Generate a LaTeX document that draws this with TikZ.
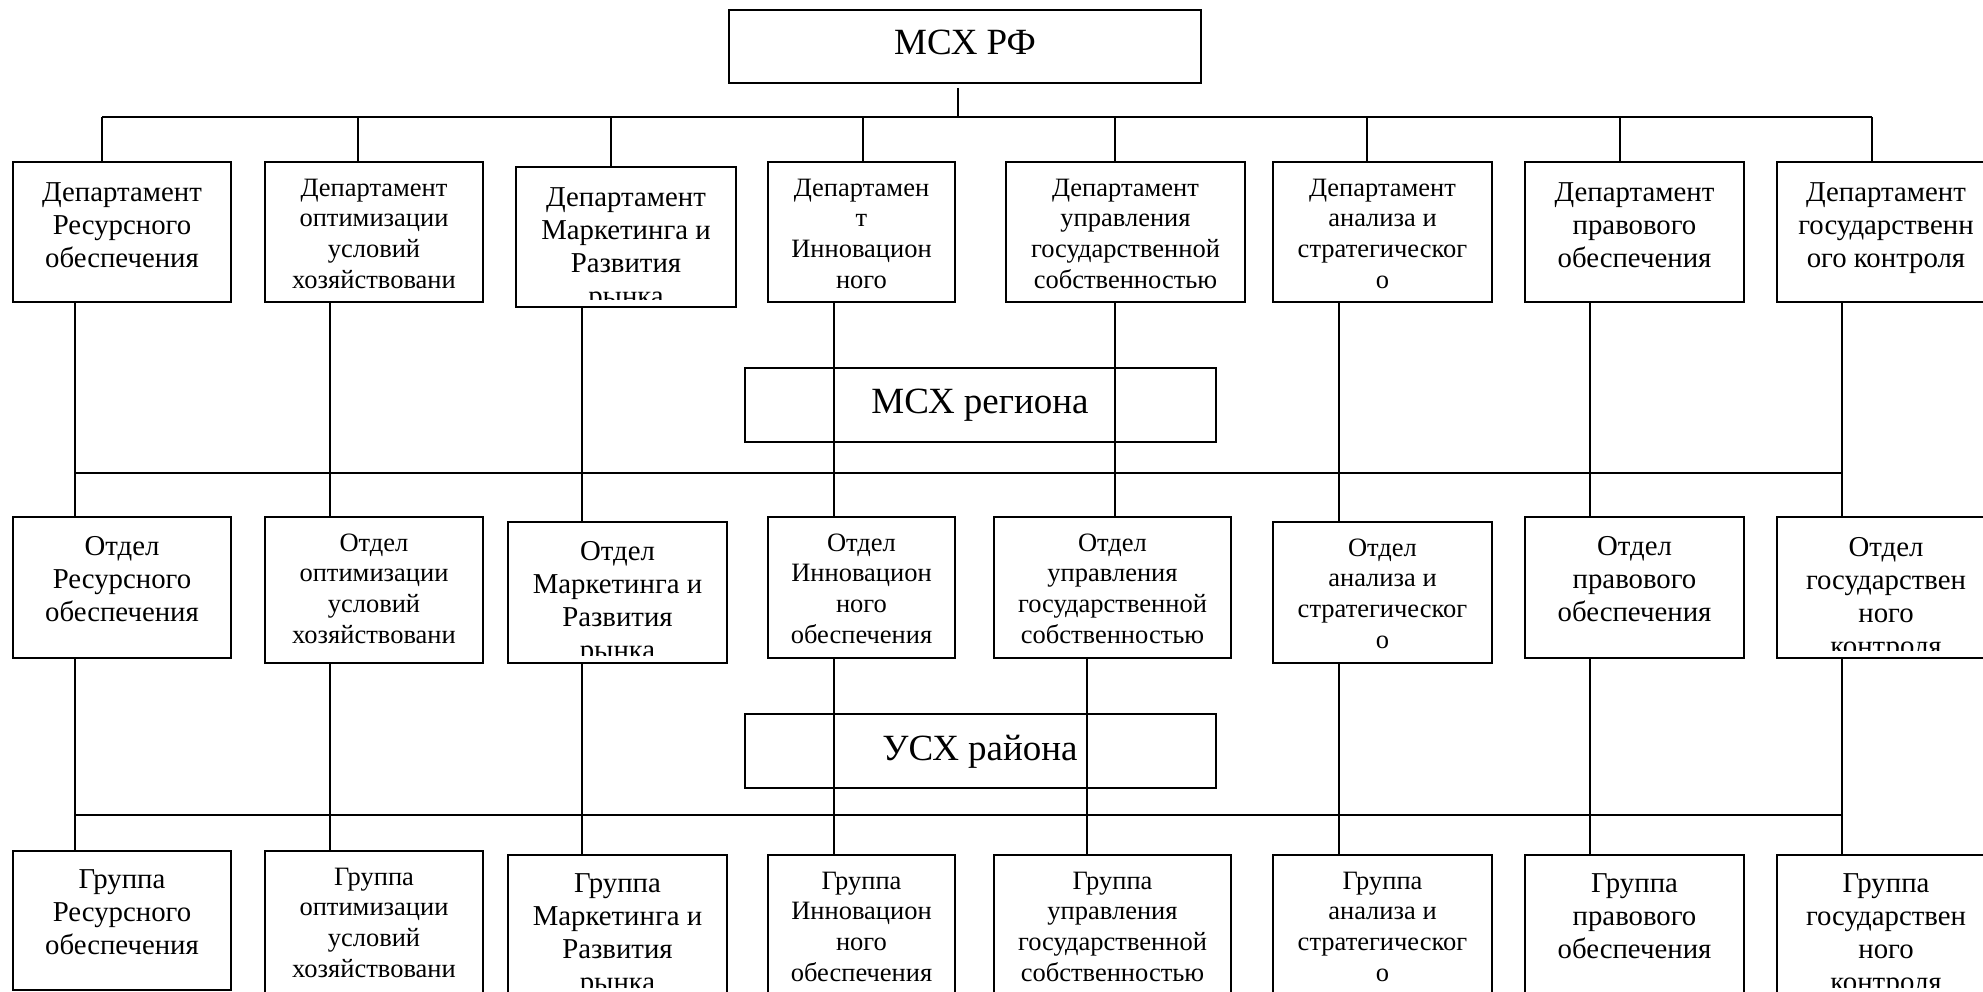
\documentclass[tikz,border=0pt]{standalone}
\usepackage{fontspec}
\setmainfont{Liberation Serif}
\newcommand\orgbox[8]{%
  \node[frame, minimum width={#4-#2}, minimum height={#5-#3}] (#1) at (#2,#3) {};
  \begin{scope}
    \clip (#2,#3) rectangle (#4,#5-8);
    \node[lbl,#6,anchor=north] (#1t) at ({(#2+#4)/2},#3+#7-26) {\rule{0pt}{26pt}#8};
  \end{scope}}
\begin{document}
\begin{tikzpicture}[x=1pt,y=-1pt,
  frame/.style={draw, line width=2.2pt, rectangle, inner sep=0pt, outer sep=0pt, anchor=north west},
  bigtxt/.style={font=\fontsize{28.8}{33}\selectfont},
  smalltxt/.style={font=\fontsize{26.5}{30.6}\selectfont},
  headtxt/.style={font=\fontsize{37}{42}\selectfont},
  lbl/.style={align=center, inner sep=0pt},
  conn/.style={line width=1.5pt},
  bus/.style={line width=2.4pt}]
\fill[white] (0,0) rectangle (1983,992);
\useasboundingbox (0,0) rectangle (1983,992);
\clip (0,0) rectangle (1983,992);

% central boxes
\node[frame, minimum width=472, minimum height=73] (rf) at (729,10) {};
\node[lbl, headtxt, anchor=base] (rft) at (965,55) {МСХ РФ};
\node[frame, minimum width=471, minimum height=74] (reg) at (745,368) {};
\node[lbl, headtxt, anchor=base] (regt) at (980,413) {МСХ региона};
\node[frame, minimum width=471, minimum height=74] (ray) at (745,714) {};
\node[lbl, headtxt, anchor=base] (rayt) at (980,760) {УСХ района};

% row 1
\orgbox{d1}{13}{162}{231}{302}{bigtxt}{39}{Департамент\\Ресурсного\\обеспечения}
\orgbox{d2}{265}{162}{483}{302}{smalltxt}{34}{Департамент\\оптимизации\\условий\\хозяйствовани}
\orgbox{d3}{516}{167}{736}{307}{bigtxt}{39}{Департамент\\Маркетинга и\\Развития\\рынка}
\orgbox{d4}{768}{162}{955}{302}{smalltxt}{34}{Департамен\\т\\Инновацион\\ного}
\orgbox{d5}{1006}{162}{1245}{302}{smalltxt}{34}{Департамент\\управления\\государственной\\собственностью}
\orgbox{d6}{1273}{162}{1492}{302}{smalltxt}{34}{Департамент\\анализа и\\стратегическог\\о}
\orgbox{d7}{1525}{162}{1744}{302}{bigtxt}{39}{Департамент\\правового\\обеспечения}
\orgbox{d8}{1777}{162}{1995}{302}{bigtxt}{39}{Департамент\\государственн\\ого контроля}

% row 2
\orgbox{o1}{13}{517}{231}{658}{bigtxt}{38}{Отдел\\Ресурсного\\обеспечения}
\orgbox{o2}{265}{517}{483}{663}{smalltxt}{34}{Отдел\\оптимизации\\условий\\хозяйствовани}
\orgbox{o3}{508}{522}{727}{663}{bigtxt}{38}{Отдел\\Маркетинга и\\Развития\\рынка}
\orgbox{o4}{768}{517}{955}{658}{smalltxt}{34}{Отдел\\Инновацион\\ного\\обеспечения}
\orgbox{o5}{994}{517}{1231}{658}{smalltxt}{34}{Отдел\\управления\\государственной\\собственностью}
\orgbox{o6}{1273}{522}{1492}{663}{smalltxt}{34}{Отдел\\анализа и\\стратегическог\\о}
\orgbox{o7}{1525}{517}{1744}{658}{bigtxt}{38}{Отдел\\правового\\обеспечения}
\orgbox{o8}{1777}{517}{1995}{658}{bigtxt}{39}{Отдел\\государствен\\ного\\контроля}

% row 3
\orgbox{g1}{13}{851}{231}{990}{bigtxt}{37}{Группа\\Ресурсного\\обеспечения}
\orgbox{g2}{265}{851}{483}{995}{smalltxt}{34}{Группа\\оптимизации\\условий\\хозяйствовани}
\orgbox{g3}{508}{855}{727}{995}{bigtxt}{37}{Группа\\Маркетинга и\\Развития\\рынка}
\orgbox{g4}{768}{855}{955}{995}{smalltxt}{34}{Группа\\Инновацион\\ного\\обеспечения}
\orgbox{g5}{994}{855}{1231}{995}{smalltxt}{34}{Группа\\управления\\государственной\\собственностью}
\orgbox{g6}{1273}{855}{1492}{995}{smalltxt}{34}{Группа\\анализа и\\стратегическог\\о}
\orgbox{g7}{1525}{855}{1744}{995}{bigtxt}{37}{Группа\\правового\\обеспечения}
\orgbox{g8}{1777}{855}{1995}{995}{bigtxt}{37}{Группа\\государствен\\ного\\контроля}

% connectors: top level
\coordinate (stem) at (958,88);
\coordinate (stemb) at (958,117);
\draw[conn] (stem) -- (stemb);
\foreach \i/\x in {1/102,2/358,3/611,4/863,5/1115,6/1367,7/1620,8/1872}
  {\coordinate (t\i) at (\x,117);}
\draw[bus] (t1) -- (t8);
\foreach \i in {1,...,8} {\draw[conn] (t\i) -- (t\i |- d\i.north);}

% departments -> sections
\foreach \i/\x in {1/75,2/330,3/582,4/834,5/1115,6/1339,7/1590,8/1842}
  {\coordinate (m\i) at (\x,473);}
\draw[bus] (m1) -- (m8);
\foreach \i in {1,...,8} {\draw[conn] (m\i |- d\i.south) -- (m\i |- o\i.north);}

% sections -> groups
\foreach \i/\x in {1/75,2/330,3/582,4/834,5/1087,6/1339,7/1590,8/1842}
  {\coordinate (n\i) at (\x,815);}
\draw[bus] (n1) -- (n8);
\foreach \i in {1,...,8} {\draw[conn] (n\i |- o\i.south) -- (n\i |- g\i.north);}
\end{tikzpicture}
\end{document}
